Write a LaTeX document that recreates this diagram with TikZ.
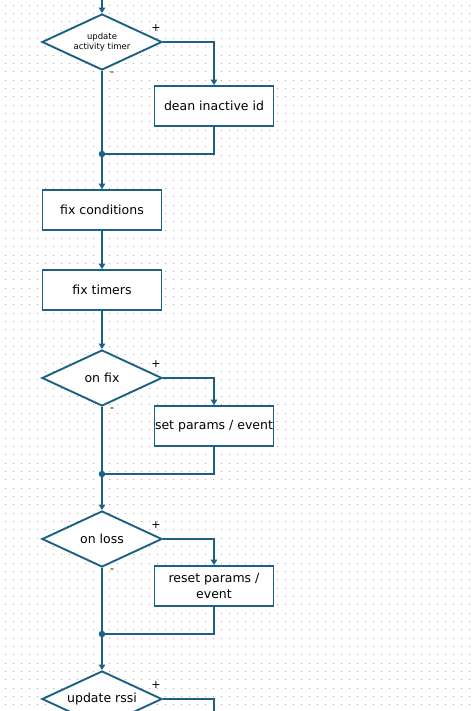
\documentclass[tikz,border=0pt]{standalone}
\usepackage{fontspec}
\setmainfont{DejaVu Sans}
\usetikzlibrary{shapes.geometric, arrows.meta, positioning, calc}
\definecolor{FlowBlue}{RGB}{28, 96, 132}
\definecolor{GridGrey}{RGB}{165, 165, 165}

\tikzset{
  stepbox/.style={draw=FlowBlue, line width=1.9pt, fill=white, minimum width=119pt,
                  minimum height=40pt, inner sep=0pt, align=center,
                  font=\fontsize{12.5}{16}\selectfont},
  testbox/.style={diamond, draw=FlowBlue, line width=1.9pt, fill=white, aspect=2.14,
                  minimum width=120pt, minimum height=56pt, inner sep=0pt, align=center,
                  font=\fontsize{12.5}{16}\selectfont},
  flow/.style={draw=FlowBlue, line width=1.9pt},
  flowarrow/.style={flow, -{Triangle[width=6.5pt, length=5.5pt]}},
  joint/.style={circle, fill=FlowBlue, inner sep=0pt, minimum size=6.5pt},
  sign/.style={font=\fontsize{11}{11}\selectfont, inner sep=0pt},
}

\begin{document}
\begin{tikzpicture}[x=1pt, y=-1pt]
  \useasboundingbox (0,0) rectangle (474,711);
  % dotted grid
  \foreach \i in {0,...,58}
    \foreach \j in {0,...,84}
      \fill[GridGrey] (4.6+8*\i,4.6+8.33*\j) rectangle ++(0.9,0.9);

  % nodes
  \coordinate (entry) at (102,0);
  \node[testbox, font=\fontsize{8.5}{10}\selectfont] (activity) at (102,42) {update\\activity timer};
  \node[stepbox] (clean) at (214,106) {dean inactive id};
  \node[joint] (j1) at (102,154) {};
  \node[stepbox] (conditions) at (102,210) {fix conditions};
  \node[stepbox] (timers) at (102,290) {fix timers};
  \node[testbox] (onfix) at (102,378) {on fix};
  \node[stepbox] (setparams) at (214,426) {set params / event};
  \node[joint] (j2) at (102,474) {};
  \node[testbox] (onloss) at (102,539) {on loss};
  \node[stepbox] (resetparams) at (214,586) {reset params /\\event};
  \node[joint] (j3) at (102,634) {};
  \node[testbox] (rssi) at (102,699) {update rssi};
  \coordinate (rssiout) at (214,715);

  % + / - labels
  \foreach \d in {activity, onfix, onloss, rssi} {
    \node[sign] (\d yes) at ($(\d.east)+(-7,-14)$) {+};
  }
  \foreach \d in {activity, onfix, onloss} {
    \node[sign] (\d no) at ($(\d.south)+(10,3)$) {-};
  }

  % connectors
  \draw[flowarrow] (entry) -- (activity.north);
  \draw[flowarrow] (activity.east) -| (clean.north);
  \draw[flow] (clean.south) |- (j1);
  \draw[flow] (activity.south) -- (j1);
  \draw[flowarrow] (j1) -- (conditions.north);
  \draw[flowarrow] (conditions) -- (timers);
  \draw[flowarrow] (timers) -- (onfix.north);
  \draw[flowarrow] (onfix.east) -| (setparams.north);
  \draw[flow] (setparams.south) |- (j2);
  \draw[flow] (onfix.south) -- (j2);
  \draw[flowarrow] (j2) -- (onloss.north);
  \draw[flowarrow] (onloss.east) -| (resetparams.north);
  \draw[flow] (resetparams.south) |- (j3);
  \draw[flow] (onloss.south) -- (j3);
  \draw[flowarrow] (j3) -- (rssi.north);
  \draw[flow] (rssi.east) -| (rssiout);
\end{tikzpicture}
\end{document}
